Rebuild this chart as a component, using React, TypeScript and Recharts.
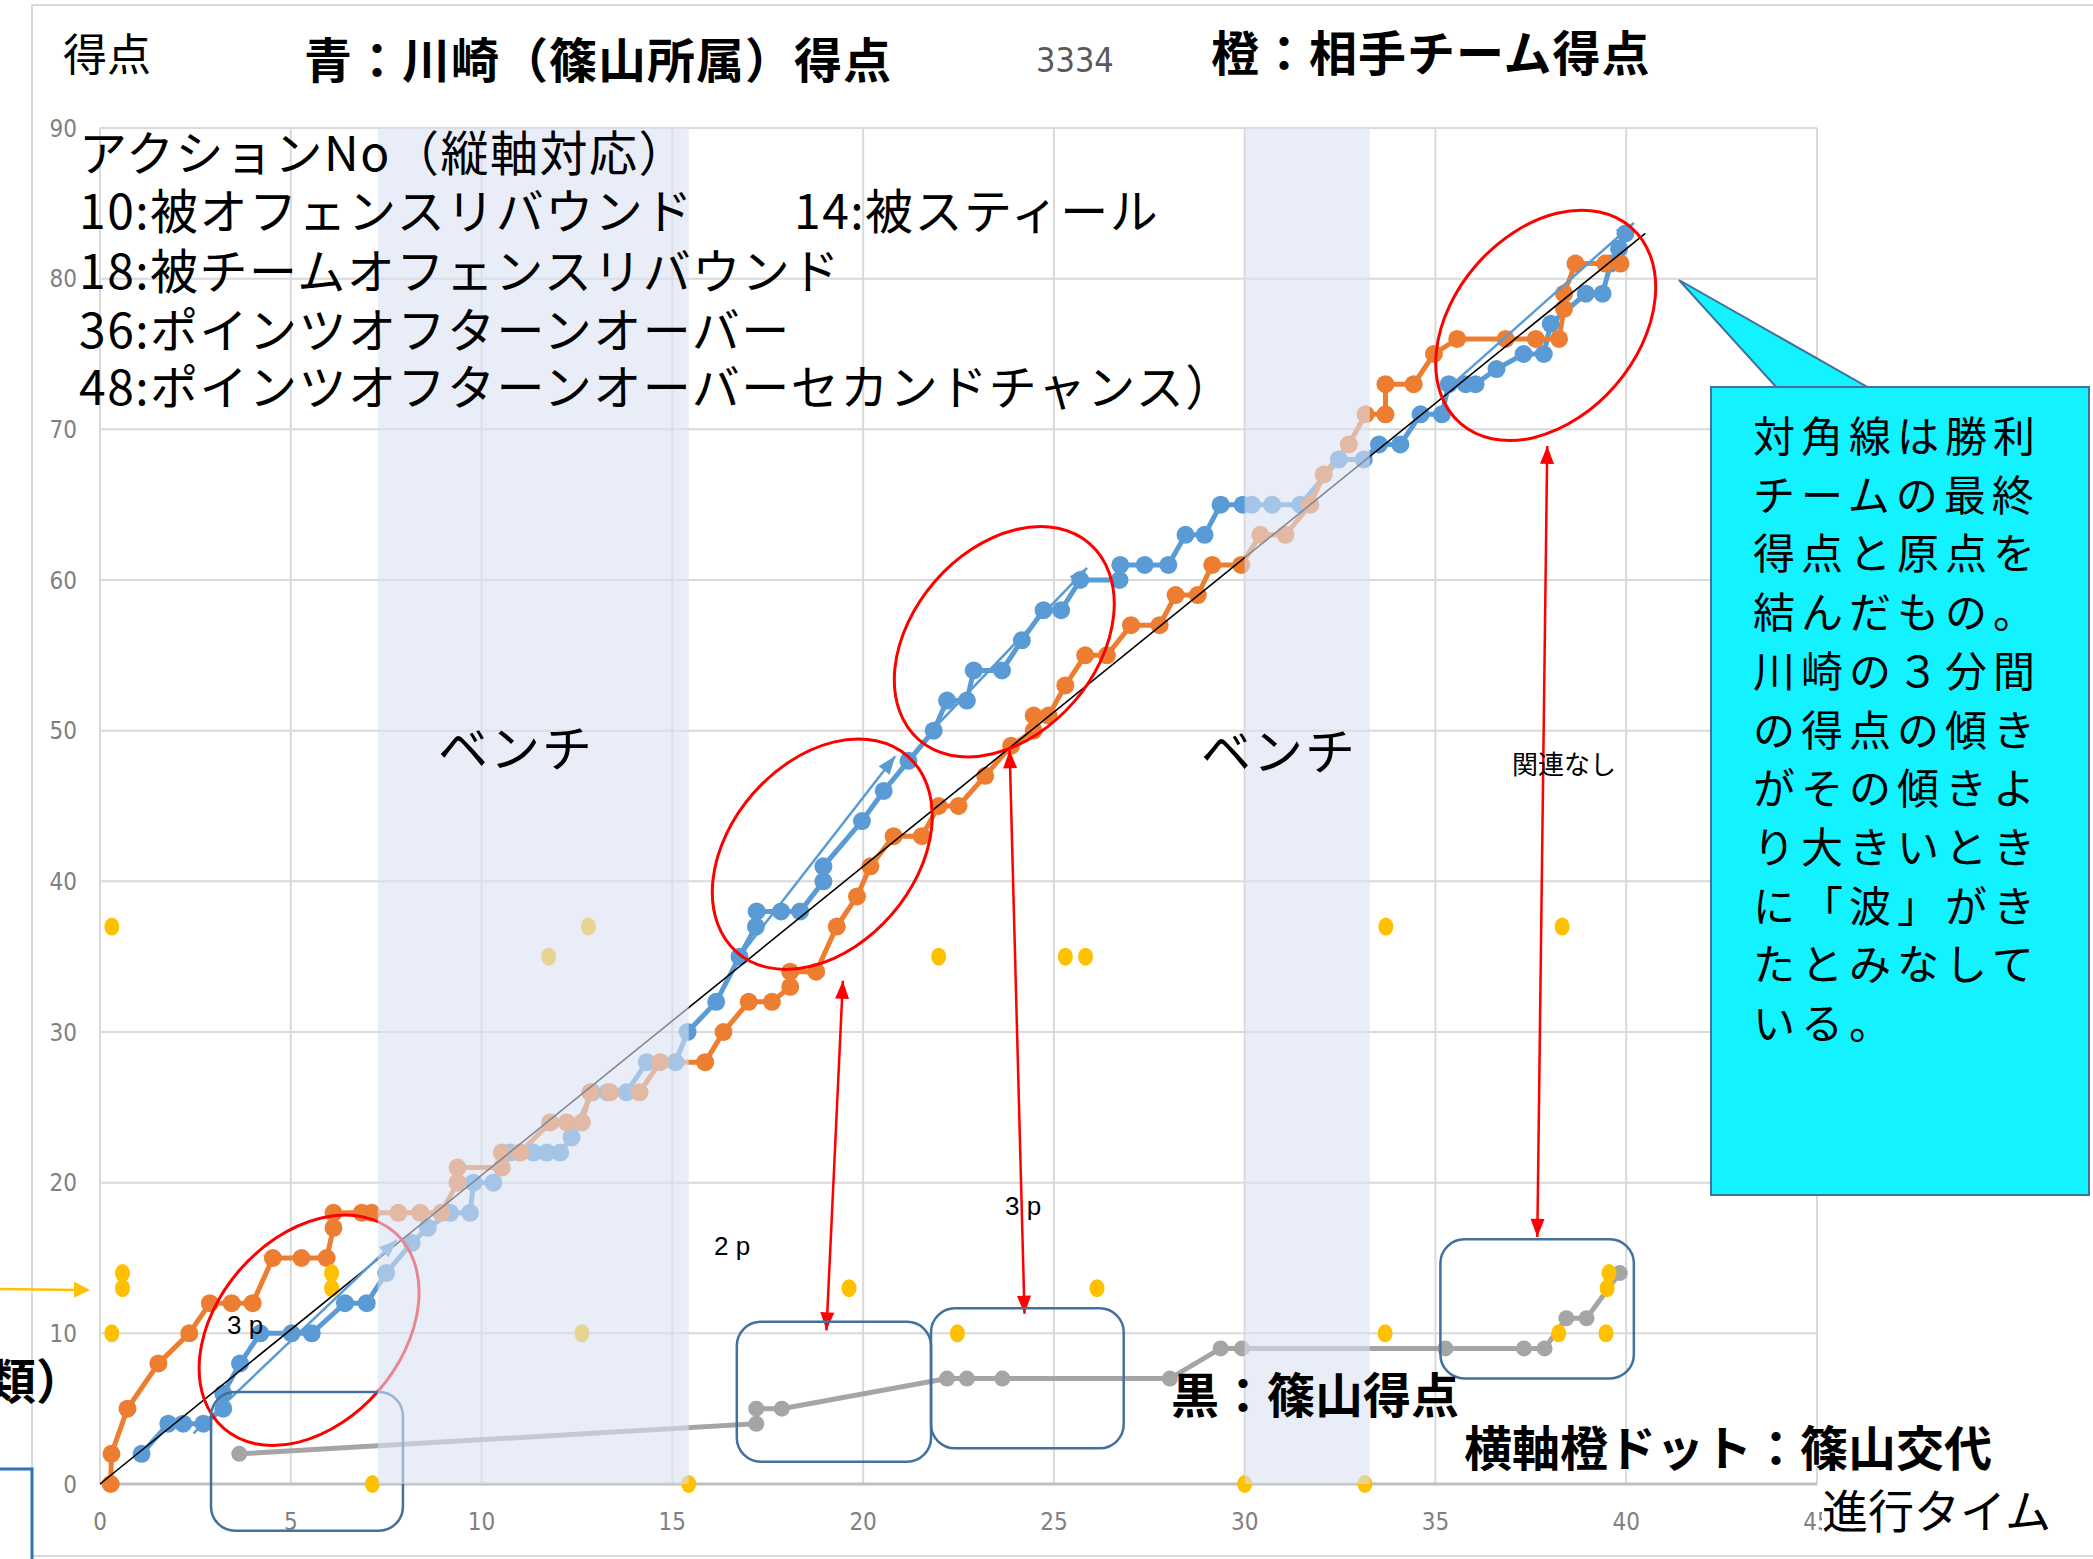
import React from 'react';
import {
  ComposedChart,
  Line,
  Scatter,
  XAxis,
  YAxis,
  CartesianGrid,
  ReferenceArea,
  ReferenceLine,
  ReferenceDot,
} from 'recharts';

const W = 2093;
const H = 1559;

const BLUE = '#5B9BD5';
const ORANGE = '#ED7D31';
const GRAY = '#A5A5A5';
const YELLOW = '#FFC000';
const RED = '#FF0000';
const BOX = '#41719C';
const CYAN = '#12F2FF';

// 青：川崎（篠山所属）得点
const kawasakiTime = [1.09, 1.79, 2.18, 2.71, 3.23, 3.23, 3.67, 4.2, 5.02, 5.55, 6.42, 6.99, 7.5, 8.17, 8.59, 9.18, 9.7, 9.79, 10.31, 10.75, 11.36, 11.71, 12.06, 12.36, 12.9, 13.3, 13.8, 14.33, 15.08, 15.4, 16.15, 16.76, 17.19, 17.21, 17.85, 18.35, 18.96, 18.96, 19.97, 20.54, 21.19, 21.85, 22.2, 22.72, 22.9, 23.64, 24.16, 24.73, 25.19, 25.69, 26.72, 26.74, 27.38, 28.0, 28.45, 28.95, 29.37, 29.95, 30.19, 30.72, 31.46, 32.47, 33.12, 33.52, 34.08, 34.61, 35.17, 35.35, 35.79, 36.05, 36.6, 37.31, 37.84, 38.02, 38.94, 39.38, 39.59, 39.81, 39.98];
const kawasakiScore = [2, 4, 4, 4, 5, 6, 8, 10, 10, 10, 12, 12, 14, 16, 17, 18, 18, 20, 20, 22, 22, 22, 22, 23, 26, 26, 26, 28, 28, 30, 32, 35, 37, 38, 38, 38, 40, 41, 44, 46, 48, 50, 52, 52, 54, 54, 56, 58, 58, 60, 60, 61, 61, 61, 63, 63, 65, 65, 65, 65, 65, 68, 68, 69, 69, 71, 71, 73, 73, 73, 74, 75, 75, 77, 79, 79, 81, 82, 83];

// 橙：相手チーム得点
const opponentTime = [0.28, 0.3, 0.72, 1.53, 2.34, 2.88, 3.45, 4.0, 4.53, 5.28, 5.94, 6.12, 6.12, 6.86, 7.12, 7.82, 8.39, 8.94, 9.37, 9.37, 10.53, 10.53, 11.01, 11.8, 12.23, 12.63, 12.85, 13.37, 14.14, 14.68, 15.86, 16.34, 17.0, 17.61, 18.09, 18.09, 18.77, 19.31, 19.84, 20.19, 20.8, 21.54, 21.98, 22.5, 23.2, 23.88, 24.47, 24.47, 24.86, 25.3, 25.82, 26.39, 27.02, 27.77, 28.19, 28.77, 29.15, 29.91, 30.41, 31.07, 31.72, 32.07, 32.73, 33.17, 33.69, 33.69, 34.43, 34.96, 35.57, 36.84, 37.63, 38.24, 38.37, 38.37, 38.67, 39.45, 39.85];
const opponentScore = [0, 2, 5, 8, 10, 12, 12, 12, 15, 15, 15, 17, 18, 18, 18, 18, 18, 18, 20, 21, 21, 22, 22, 24, 24, 24, 26, 26, 26, 28, 28, 30, 32, 32, 33, 34, 34, 37, 39, 41, 43, 43, 45, 45, 47, 49, 50, 51, 51, 53, 55, 55, 57, 57, 59, 59, 61, 61, 63, 63, 65, 67, 69, 71, 71, 73, 73, 75, 76, 76, 76, 76, 78, 79, 81, 81, 81];

// 黒：篠山得点
const sasayamaTime = [3.65, 17.2, 17.2, 17.87, 22.2, 22.72, 23.65, 28.04, 29.37, 29.93, 35.26, 37.32, 37.86, 38.43, 38.96, 39.83];
const sasayamaScore = [2, 4, 5, 5, 7, 7, 7, 7, 9, 9, 9, 9, 9, 11, 11, 14];

// 橙ドット：篠山交代とアクションNo
const actionTime = [0.31, 0.59, 0.59, 0.31, 7.14, 6.07, 6.07, 12.8, 11.76, 12.63, 15.43, 19.63, 21.98, 22.47, 25.3, 25.83, 26.13, 30.0, 33.15, 33.7, 33.68, 38.32, 38.23, 39.47, 39.5, 39.55];
const actionNo = [37, 14, 13, 10, 0, 14, 13, 37, 35, 10, 0, 13, 35, 10, 35, 35, 13, 0, 0, 37, 10, 37, 10, 10, 13, 14];

const xTicks = [0, 5, 10, 15, 20, 25, 30, 35, 40, 45];
const yTicks = [0, 10, 20, 30, 40, 50, 60, 70, 80, 90];

// ベンチ時間帯
const benchSpans = [[7.28, 15.43], [30.0, 33.28]];
// 対角線（原点〜勝利チーム最終得点）
const diagonalEnd = { x: 40.5, y: 83 };
// 「波」の赤丸
const waveCenters = [{ x: 5.48, y: 10.2 }, { x: 18.93, y: 41.8 }, { x: 23.7, y: 55.9 }, { x: 37.89, y: 76.9 }];
// 川崎3分間の傾き
const trendArrows = [[2.45, 3.36, 7.78, 16.2], [16.91, 35.5, 20.84, 48.3], [21.8, 50, 25.87, 60.8], [35.27, 72.6, 40.2, 83.7]];
// 赤の両矢印
const linkArrows = [[19.47, 33.4, 19.04, 10.2], [23.84, 48.7, 24.23, 11.3], [37.93, 68.9, 37.67, 16.4]];
// 篠山得点の囲み
const gameBoxes = [[2.91, 7.94, -3.1, 6.1], [16.69, 21.78, 1.48, 10.77], [21.78, 26.83, 2.37, 11.66], [35.13, 40.2, 7.01, 16.24]];

const zip = (xs: number[], ys: number[]) => xs.map((x, i) => ({ x, y: ys[i] }));
const kawasaki = zip(kawasakiTime, kawasakiScore);
const opponent = zip(opponentTime, opponentScore);
const sasayama = zip(sasayamaTime, sasayamaScore);
const actions = zip(actionTime, actionNo);

const GOTHIC = '"Noto Sans CJK JP", "Noto Sans", sans-serif';
const NARROW = '"Liberation Sans Narrow", "DejaVu Sans Condensed", sans-serif';

const headPoints = (tx: number, ty: number, fx: number, fy: number, len: number, half: number) => {
  const a = Math.atan2(ty - fy, tx - fx);
  const bx = tx - len * Math.cos(a);
  const by = ty - len * Math.sin(a);
  return `${tx},${ty} ${bx - half * Math.sin(a)},${by + half * Math.cos(a)} ${bx + half * Math.sin(a)},${by - half * Math.cos(a)}`;
};

const arrowShape = (color: string, width: number, both: boolean) => (p: any) => {
  const { x1, y1, x2, y2 } = p;
  return (
    <g>
      <line x1={x1} y1={y1} x2={x2} y2={y2} stroke={color} strokeWidth={width} />
      <polygon points={headPoints(x2, y2, x1, y1, 18, 7)} fill={color} />
      {both && <polygon points={headPoints(x1, y1, x2, y2, 18, 7)} fill={color} />}
    </g>
  );
};

const ellipseShape = (p: any) => (
  <ellipse
    cx={p.cx}
    cy={p.cy}
    rx={130}
    ry={92}
    transform={`rotate(-49 ${p.cx} ${p.cy})`}
    fill="none"
    stroke={RED}
    strokeWidth={3}
  />
);

const boxShape = (p: any) => (
  <rect x={p.x} y={p.y} width={p.width} height={p.height} rx={24} fill="none" stroke={BOX} strokeWidth={2.5} />
);

const yellowDot = (p: any) => <ellipse cx={p.cx} cy={p.cy} rx={7.5} ry={9} fill={YELLOW} />;

const Txt = ({ left, cy, size, bold, children, style }: any) => (
  <div
    style={{
      position: 'absolute',
      left,
      top: cy - size * 0.56,
      fontSize: size,
      lineHeight: 1,
      fontWeight: bold ? 700 : 400,
      fontFamily: GOTHIC,
      whiteSpace: 'nowrap',
      color: '#000',
      ...style,
    }}
  >
    {children}
  </div>
);

const calloutLines = [
  '対角線は勝利',
  'チームの最終',
  '得点と原点を',
  '結んだもの。',
  '川崎の３分間',
  'の得点の傾き',
  'がその傾きよ',
  'り大きいとき',
  'に「波」がき',
  'たとみなして',
  'いる。',
];

const legendStyle = { letterSpacing: 1.5 };

export default function App() {
  return (
    <div style={{ position: 'absolute', left: 0, top: 0, width: W, height: H, overflow: 'hidden', background: '#fff' }}>
      <svg width={W} height={H} style={{ position: 'absolute', left: 0, top: 0 }}>
        <rect x={32} y={5} width={2100} height={1551} fill="#fff" stroke="#D9D9D9" strokeWidth={2} />
      </svg>

      <div style={{ position: 'absolute', left: 0, top: 0 }}>
        <ComposedChart width={W} height={H} margin={{ top: 128, right: 276, bottom: 35, left: 40 }}>
          <CartesianGrid stroke="#D9D9D9" strokeWidth={2} />
          <XAxis
            type="number"
            dataKey="x"
            domain={[0, 45]}
            ticks={xTicks}
            height={40}
            tickLine={false}
            tickSize={0}
            tickMargin={29}
            axisLine={{ stroke: '#BFBFBF', strokeWidth: 3 }}
            tick={{ fontSize: 24, fill: '#808080', fontFamily: NARROW }}
          />
          <YAxis
            type="number"
            dataKey="y"
            domain={[0, 90]}
            ticks={yTicks}
            width={60}
            tickLine={false}
            tickSize={0}
            tickMargin={23}
            axisLine={{ stroke: '#D9D9D9', strokeWidth: 2 }}
            tick={{ fontSize: 24, fill: '#808080', fontFamily: NARROW }}
          />

          <Line
            data={kawasaki}
            dataKey="y"
            type="linear"
            stroke={BLUE}
            strokeWidth={5}
            dot={{ r: 9, fill: BLUE, stroke: 'none' }}
            activeDot={false}
            isAnimationActive={false}
          />
          <Line
            data={opponent}
            dataKey="y"
            type="linear"
            stroke={ORANGE}
            strokeWidth={5}
            dot={{ r: 9, fill: ORANGE, stroke: 'none' }}
            activeDot={false}
            isAnimationActive={false}
          />
          <Line
            data={sasayama}
            dataKey="y"
            type="linear"
            stroke={GRAY}
            strokeWidth={5}
            dot={{ r: 8, fill: GRAY, stroke: 'none' }}
            activeDot={false}
            isAnimationActive={false}
          />
          <Scatter data={actions} dataKey="y" shape={yellowDot} isAnimationActive={false} zIndex={620} />

          <ReferenceLine
            segment={[{ x: 0, y: 0 }, diagonalEnd]}
            stroke="#000"
            strokeWidth={1.6}
            ifOverflow="visible"
            zIndex={650}
          />
          {trendArrows.map((a, i) => (
            <ReferenceLine
              key={`t${i}`}
              segment={[{ x: a[0], y: a[1] }, { x: a[2], y: a[3] }]}
              ifOverflow="visible"
              shape={arrowShape(BLUE, 2.5, false)}
              zIndex={650}
            />
          ))}
          {linkArrows.map((a, i) => (
            <ReferenceLine
              key={`l${i}`}
              segment={[{ x: a[0], y: a[1] }, { x: a[2], y: a[3] }]}
              ifOverflow="visible"
              shape={arrowShape(RED, 2.5, true)}
              zIndex={650}
            />
          ))}
          {waveCenters.map((c, i) => (
            <ReferenceDot key={`e${i}`} x={c.x} y={c.y} r={1} ifOverflow="visible" shape={ellipseShape} zIndex={650} />
          ))}
          {gameBoxes.map((b, i) => (
            <ReferenceArea
              key={`b${i}`}
              x1={b[0]}
              x2={b[1]}
              y1={b[2]}
              y2={b[3]}
              ifOverflow="visible"
              shape={boxShape}
              zIndex={650}
            />
          ))}
          {benchSpans.map((s, i) => (
            <ReferenceArea
              key={`bench${i}`}
              x1={s[0]}
              x2={s[1]}
              y1={0}
              y2={90}
              fill="#D9E1F2"
              fillOpacity={0.6}
              stroke="none"
              zIndex={900}
            />
          ))}
        </ComposedChart>
      </div>

      {/* 見出し */}
      <Txt left={63} cy={55} size={44}>得点</Txt>
      <Txt left={304} cy={60} size={48} bold style={{ letterSpacing: 1 }}>青：川崎（篠山所属）得点</Txt>
      <Txt left={1036} cy={62} size={34} style={{ fontFamily: NARROW, color: '#595959' }}>3334</Txt>
      <Txt left={1211} cy={53} size={48} bold style={{ letterSpacing: 1 }}>橙：相手チーム得点</Txt>

      {/* アクションNo 凡例 */}
      <Txt left={79} cy={153} size={48} style={legendStyle}>アクションNo（縦軸対応）</Txt>
      <Txt left={79} cy={211} size={48} style={legendStyle}>10:被オフェンスリバウンド</Txt>
      <Txt left={794} cy={211} size={48} style={legendStyle}>14:被スティール</Txt>
      <Txt left={79} cy={271} size={48} style={legendStyle}>18:被チームオフェンスリバウンド</Txt>
      <Txt left={79} cy={330} size={48} style={legendStyle}>36:ポインツオフターンオーバー</Txt>
      <Txt left={79} cy={387} size={48} style={legendStyle}>48:ポインツオフターンオーバーセカンドチャンス）</Txt>

      <Txt left={438} cy={748} size={50} style={{ letterSpacing: 2 }}>ベンチ</Txt>
      <Txt left={1201} cy={751} size={50} style={{ letterSpacing: 2 }}>ベンチ</Txt>
      <Txt left={1512} cy={765} size={26}>関連なし</Txt>

      <Txt left={227} cy={1327} size={26} style={{ fontFamily: '"Liberation Sans", sans-serif' }}>3 p</Txt>
      <Txt left={714} cy={1248} size={26} style={{ fontFamily: '"Liberation Sans", sans-serif' }}>2 p</Txt>
      <Txt left={1005} cy={1208} size={26} style={{ fontFamily: '"Liberation Sans", sans-serif' }}>3 p</Txt>

      <Txt left={1171} cy={1395} size={48} bold>黒：篠山得点</Txt>
      <Txt left={1464} cy={1448} size={48} bold>横軸橙ドット：篠山交代</Txt>
      <Txt left={1822} cy={1511} size={46} style={{ background: '#fff', paddingRight: 10 }}>進行タイム</Txt>
      <Txt left={-12} cy={1381} size={48} bold>類）</Txt>

      {/* 左端の矢印と枠 */}
      <svg width={W} height={H} style={{ position: 'absolute', left: 0, top: 0, pointerEvents: 'none' }}>
        <line x1={0} y1={1289} x2={76} y2={1290} stroke={YELLOW} strokeWidth={2.5} />
        <polygon points={headPoints(90, 1290, 0, 1289, 16, 8)} fill={YELLOW} />
        <polyline points="0,1469 32,1469 32,1559" fill="none" stroke="#2E75B6" strokeWidth={3} />
        <polygon points="1679,280 1777,388 1869,388" fill={CYAN} stroke={BOX} strokeWidth={2} />
      </svg>

      {/* 吹き出し */}
      <div
        style={{
          position: 'absolute',
          left: 1710,
          top: 386,
          width: 380,
          height: 810,
          boxSizing: 'border-box',
          background: CYAN,
          border: `2px solid ${BOX}`,
          paddingTop: 17,
          paddingLeft: 41,
          fontFamily: GOTHIC,
          fontSize: 42,
          letterSpacing: 6,
          lineHeight: '58.7px',
          color: '#000',
        }}
      >
        {calloutLines.map((l, i) => (
          <div key={i} style={{ whiteSpace: 'nowrap' }}>{l}</div>
        ))}
      </div>
    </div>
  );
}
